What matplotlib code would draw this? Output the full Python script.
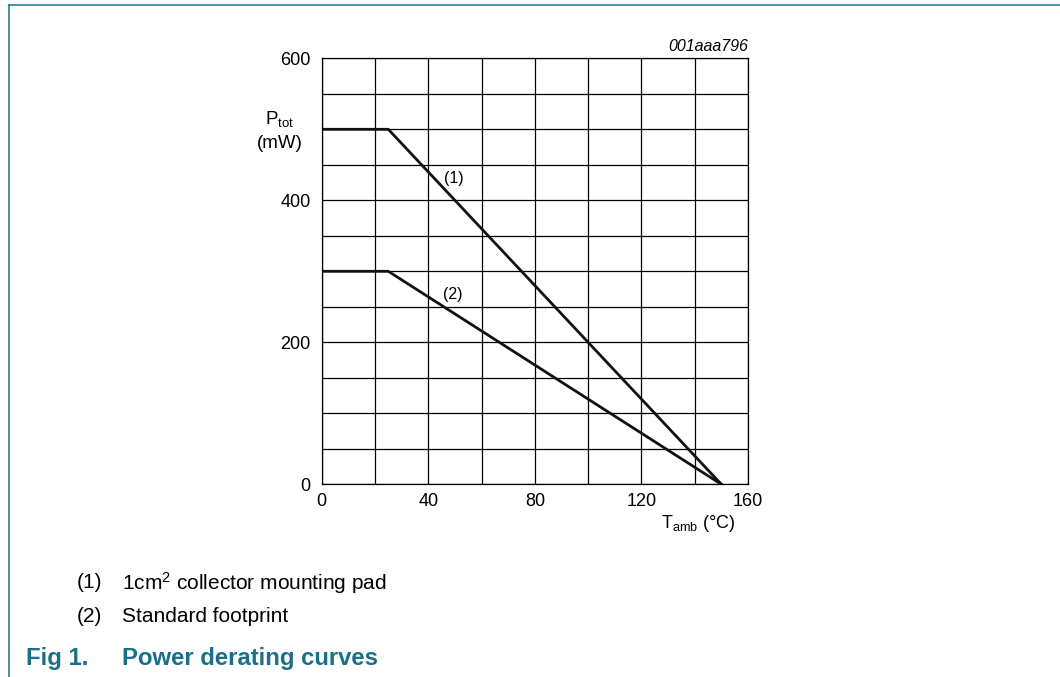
import matplotlib
matplotlib.use("Agg")
import matplotlib.pyplot as plt
from matplotlib.lines import Line2D

plt.rcParams['font.family'] = ['Liberation Sans', 'DejaVu Sans']
plt.rcParams['mathtext.fontset'] = 'custom'
plt.rcParams['mathtext.rm'] = 'Liberation Sans'
plt.rcParams['mathtext.it'] = 'Liberation Sans:italic'

# Derating curves: ambient temperature (°C) vs total power (mW)
t_amb = [0, 25, 150]
p_pad = [500, 500, 0]        # (1) 1cm² collector mounting pad
p_std = [300, 300, 0]        # (2) standard footprint

x_major = [0, 40, 80, 120, 160]
x_grid = list(range(0, 161, 20))
y_major = [0, 200, 400, 600]
y_grid = list(range(0, 601, 50))

legend_items = [("(1)", "1cm$^{\\mathregular{2}}$ collector mounting pad"),
                ("(2)", "Standard footprint")]
fig_title = ("Fig 1.", "Power derating curves")
teal = "#1b6f88"

fig = plt.figure(figsize=(10.6, 6.77), dpi=100)
W, H = 1060, 677

def fx(px):
    return px / W

def fy(py):
    return 1 - py / H

ax = fig.add_axes([fx(321.7), fy(484.3), fx(748) - fx(321.7), fy(58.3) - fy(484.3)])
ax.set_xlim(0, 160)
ax.set_ylim(0, 600)
ax.set_xticks(x_major)
ax.set_yticks(y_major)
ax.set_xticks(x_grid, minor=True)
ax.set_yticks(y_grid, minor=True)
ax.tick_params(which='both', length=0, labelsize=13, colors='black')
ax.tick_params(axis='x', pad=6)
ax.tick_params(axis='y', pad=8)
ax.grid(which='both', color='black', linewidth=0.9)
for s in ax.spines.values():
    s.set_linewidth(0.9)
    s.set_color('black')

ax.plot(t_amb, p_pad, color='#111111', linewidth=2.0, solid_joinstyle='miter')
ax.plot(t_amb, p_std, color='#111111', linewidth=2.0, solid_joinstyle='miter')
ax.text(49.6, 431, "(1)", fontsize=11.5, ha='center', va='center')
ax.text(49.2, 267, "(2)", fontsize=11.5, ha='center', va='center')

fig.text(fx(748), fy(51), "001aaa796", fontsize=11.5, style='italic',
         ha='right', va='baseline')
fig.text(fx(280), fy(119), r"P$_{\mathregular{tot}}$", fontsize=13.5,
         ha='center', va='center')
fig.text(fx(279.5), fy(144), "(mW)", fontsize=13.5, ha='center', va='center')
fig.text(fx(735), fy(523), r"T$_{\mathregular{amb}}$ (°C)", fontsize=13,
         ha='right', va='center')

# Notes below the chart
note_y = [583, 617]
for (num, txt), y in zip(legend_items, note_y):
    fig.text(fx(77), fy(y), num, fontsize=15, ha='left', va='center')
    fig.text(fx(122), fy(y), txt, fontsize=15, ha='left', va='center')

fig.text(fx(26), fy(665), fig_title[0], fontsize=17.2, fontweight='bold',
         color=teal, ha='left', va='baseline')
fig.text(fx(122), fy(665), fig_title[1], fontsize=17.2, fontweight='bold',
         color=teal, ha='left', va='baseline')

# Page frame lines (top and left)
fig.add_artist(Line2D([fx(9), 1.0], [fy(5), fy(5)], color=teal, linewidth=1.1,
                      transform=fig.transFigure))
fig.add_artist(Line2D([fx(9), fx(9)], [fy(5), 0.0], color=teal, linewidth=1.1,
                      transform=fig.transFigure))

fig.savefig("out.png", dpi=100)
